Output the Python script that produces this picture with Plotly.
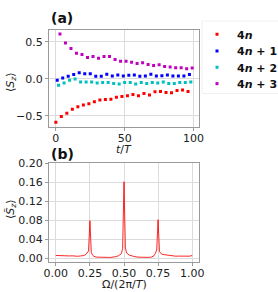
import plotly.graph_objects as go

# ---------------- data ----------------
t_4n = [0, 4, 8, 12, 16, 20, 24, 28, 32, 36, 40, 44, 48, 52, 56, 60, 64, 68, 72, 76, 80, 84, 88, 92, 96]
s_4n = [-0.585, -0.509, -0.464, -0.411, -0.376, -0.355, -0.336, -0.31, -0.287, -0.28, -0.275, -0.25,
        -0.238, -0.229, -0.211, -0.23, -0.2, -0.218, -0.175, -0.172, -0.186, -0.189, -0.158, -0.15, -0.173]

t_4n1 = [1, 5, 9, 13, 17, 21, 25, 29, 33, 37, 41, 45, 49, 53, 57, 61, 65, 69, 73, 77, 81, 85, 89, 93, 97]
s_4n1 = [-0.02, 0.011, 0.033, 0.056, 0.082, 0.069, 0.069, 0.033, 0.033, 0.06, 0.038, 0.051,
         0.038, 0.047, 0.051, 0.033, 0.038, 0.06, 0.038, 0.042, 0.051, 0.038, 0.038, 0.038, 0.056]

t_4n2 = [2, 6, 10, 14, 18, 22, 26, 30, 34, 38, 42, 46, 50, 54, 58, 62, 66, 70, 74, 78, 82, 86, 90, 94, 98]
s_4n2 = [-0.087, -0.056, -0.02, -0.002, -0.042, -0.042, -0.042, -0.056, -0.051, -0.051, -0.064, -0.069,
         -0.051, -0.051, -0.069, -0.051, -0.064, -0.051, -0.056, -0.042, -0.064, -0.064, -0.051, -0.051, -0.042]

t_4n3 = [3, 7, 11, 15, 19, 23, 27, 31, 35, 39, 43, 47, 51, 55, 59, 63, 67, 71, 75, 79, 83, 87, 91, 95, 99]
s_4n3 = [0.603, 0.482, 0.407, 0.344, 0.327, 0.287, 0.3, 0.278, 0.3, 0.3, 0.26, 0.238,
         0.238, 0.224, 0.207, 0.216, 0.193, 0.18, 0.189, 0.167, 0.158, 0.149, 0.149, 0.136, 0.144]

freq = [0.00, 0.02, 0.04, 0.06, 0.08, 0.10, 0.12, 0.14, 0.16, 0.18, 0.20, 0.22, 0.23, 0.24, 0.25,
        0.26, 0.27, 0.28, 0.30, 0.32, 0.34, 0.36, 0.38, 0.40, 0.42, 0.44, 0.46, 0.48, 0.49, 0.50,
        0.51, 0.52, 0.54, 0.56, 0.58, 0.60, 0.62, 0.64, 0.66, 0.68, 0.70, 0.72, 0.73, 0.74, 0.75,
        0.76, 0.77, 0.78, 0.80, 0.82, 0.84, 0.86, 0.88, 0.90, 0.92, 0.94, 0.96, 0.98, 1.00]
spec = [0.0055, 0.005, 0.0052, 0.0048, 0.005, 0.0045, 0.0048, 0.004, 0.0038, 0.0045, 0.005, 0.0075, 0.0105, 0.015, 0.079,
        0.012, 0.006, 0.0035, 0.002, 0.0015, 0.0018, 0.0012, 0.0015, 0.0013, 0.0018, 0.003, 0.005, 0.009, 0.02, 0.161,
        0.021, 0.0105, 0.006, 0.004, 0.003, 0.002, 0.0015, 0.0013, 0.0012, 0.0015, 0.002, 0.005, 0.01, 0.017, 0.081,
        0.014, 0.01, 0.008, 0.007, 0.006, 0.005, 0.0045, 0.004, 0.0042, 0.0038, 0.004, 0.0042, 0.004, 0.0055]

series_names = ["<b>4<i>n</i></b>", "<b>4<i>n</i> + 1</b>", "<b>4<i>n</i> + 2</b>", "<b>4<i>n</i> + 3</b>"]
series_colors = ["#ff0000", "#0000ff", "#00bfbf", "#bf00bf"]

# ---------------- figure ----------------
W, H = 278, 292
FONT = "DejaVu Sans"

def px_x(p):
    return p / W

def px_y(p):
    return 1 - p / H

fig = go.Figure()

legend_ids = ["legend", "legend2", "legend3", "legend4"]
legend_rows = [34.3, 51.0, 67.3, 83.6]

for tx, sy, name, col, lg in zip([t_4n, t_4n1, t_4n2, t_4n3], [s_4n, s_4n1, s_4n2, s_4n3],
                                 series_names, series_colors, legend_ids):
    fig.add_trace(go.Scatter(x=tx, y=sy, mode="markers", name=name, legend=lg,
                             marker=dict(symbol="square", size=3, color=col, line=dict(width=0)),
                             xaxis="x", yaxis="y"))

fig.add_trace(go.Scatter(x=freq, y=spec, mode="lines", showlegend=False,
                         line=dict(color="rgba(255,0,0,0.85)", width=1),
                         xaxis="x2", yaxis="y2"))

axis_common = dict(showgrid=True, gridcolor="#dcdcdc", gridwidth=1,
                   showline=True, linecolor="#9a9a9a", linewidth=1, mirror=True,
                   ticks="outside", ticklen=3, tickcolor="#9a9a9a",
                   tickfont=dict(family=FONT, size=11, color="#222"), zeroline=False,
                   automargin=False)

xd = [px_x(49), px_x(199)]
layout_kw = dict(
    width=W, height=H,
    margin=dict(l=0, r=0, t=0, b=0, autoexpand=False),
    paper_bgcolor="white", plot_bgcolor="white",
    font=dict(family=FONT, size=11, color="#222"),
    xaxis=dict(domain=xd, range=[-4.95, 103.95], tickvals=[0, 50, 100], anchor="y",
               ticklabelstandoff=-2, **axis_common),
    yaxis=dict(domain=[px_y(126.5), px_y(29.7)], range=[-0.644, 0.662], tickvals=[-0.5, 0.0, 0.5],
               tickformat=".1f", anchor="x", **axis_common),
    xaxis2=dict(domain=xd, range=[-0.05, 1.05], tickvals=[0, 0.25, 0.5, 0.75, 1.0], tickformat=".2f",
                anchor="y2", ticklabelstandoff=-2, **axis_common),
    yaxis2=dict(domain=[px_y(261.5), px_y(163.3)], range=[-0.0072, 0.2],
                tickvals=[0, 0.04, 0.08, 0.12, 0.16, 0.20], tickformat=".2f", anchor="x2", **axis_common),
    showlegend=True,
)
for lg, row in zip(legend_ids, legend_rows):
    layout_kw[lg] = dict(x=px_x(197), y=px_y(row), xanchor="left", yanchor="middle",
                         bgcolor="rgba(0,0,0,0)", borderwidth=0,
                         font=dict(family=FONT, size=11, color="#111"), itemsizing="trace")
fig.update_layout(**layout_kw)

# legend frame
fig.add_shape(type="rect", xref="paper", yref="paper",
              x0=px_x(202), x1=px_x(284), y0=px_y(93.5), y1=px_y(21),
              line=dict(color="#f0f0f0", width=1), fillcolor="rgba(0,0,0,0)", layer="below")

ann = [
    dict(text="<b>(a)</b>", x=px_x(49), y=px_y(18), xanchor="left", yanchor="middle", font=dict(size=14, color="#111")),
    dict(text="<b>(b)</b>", x=px_x(49), y=px_y(154), xanchor="left", yanchor="middle", font=dict(size=14, color="#111")),
    dict(text="<i>t</i>/<i>T</i>", x=px_x(124), y=px_y(149.5), xanchor="center", yanchor="middle", font=dict(size=11)),
    dict(text="Ω/(2π/<i>T</i>)", x=px_x(124), y=px_y(284), xanchor="center", yanchor="middle", font=dict(size=11)),
    dict(text="⟨<i>S</i><sub><i>z</i></sub>⟩", x=px_x(11), y=px_y(82), xanchor="center", yanchor="middle",
         textangle=-90, font=dict(size=11)),
    dict(text="⟨<i>S̃</i><sub><i>z</i></sub>⟩", x=px_x(11), y=px_y(209), xanchor="center", yanchor="middle",
         textangle=-90, font=dict(size=11)),
]
for a in ann:
    a.update(xref="paper", yref="paper", showarrow=False)
    a["font"].setdefault("family", FONT)
    a["font"].setdefault("color", "#222")
fig.update_layout(annotations=ann)

fig.write_html("out.html", config={"displayModeBar": False},
               post_script="document.body.style.margin='0';document.body.style.padding='0';")
